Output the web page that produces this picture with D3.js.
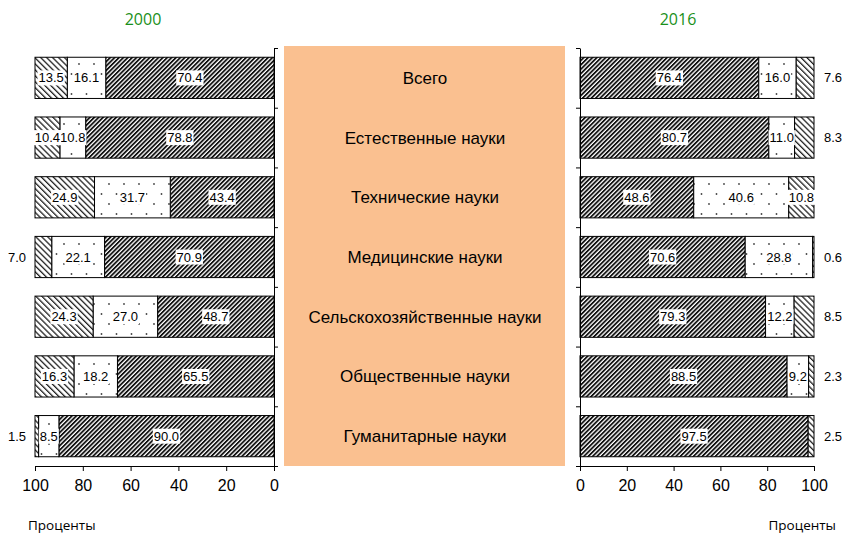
<!DOCTYPE html>
<html>
<head>
<meta charset="utf-8">
<script src="https://cdn.jsdelivr.net/npm/d3@7/dist/d3.min.js"></script>
<style>
  html, body { margin: 0; padding: 0; background: #fff; }
  svg { display: block; }
</style>
</head>
<body>
<svg id="chart" width="847" height="535"></svg>
<script>
// Categories (top to bottom)
const categories = [
  "Всего",
  "Естественные науки",
  "Технические науки",
  "Медицинские науки",
  "Сельскохозяйственные науки",
  "Общественные науки",
  "Гуманитарные науки"
];

// Shares, per cent: three components per category
const s1_2000 = [70.4, 78.8, 43.4, 70.9, 48.7, 65.5, 90.0];
const s2_2000 = [16.1, 10.8, 31.7, 22.1, 27.0, 18.2, 8.5];
const s3_2000 = [13.5, 10.4, 24.9, 7.0, 24.3, 16.3, 1.5];

const s1_2016 = [76.4, 80.7, 48.6, 70.6, 79.3, 88.5, 97.5];
const s2_2016 = [16.0, 11.0, 40.6, 28.8, 12.2, 9.2, 0.0];
const s3_2016 = [7.6, 8.3, 10.8, 0.6, 8.5, 2.3, 2.5];

const xTicks = [0, 20, 40, 60, 80, 100];
const years = ["2000", "2016"];
const unitLabel = "Проценты";

const svg = d3.select("#chart");
const defs = svg.append("defs");

// Fill patterns: dense "/" hatch, sparse dots, light "\" hatch
const pDark = defs.append("pattern").attr("id", "hatchDark")
  .attr("patternUnits", "userSpaceOnUse").attr("width", 3.1).attr("height", 10)
  .attr("patternTransform", "rotate(45)");
pDark.append("rect").attr("width", 3.1).attr("height", 10).attr("fill", "#fff");
pDark.append("rect").attr("width", 1.8).attr("height", 10).attr("fill", "#111");

const pLight = defs.append("pattern").attr("id", "hatchLight")
  .attr("patternUnits", "userSpaceOnUse").attr("width", 4.2).attr("height", 10)
  .attr("patternTransform", "rotate(-45)");
pLight.append("rect").attr("width", 4.2).attr("height", 10).attr("fill", "#fff");
pLight.append("rect").attr("width", 1.3).attr("height", 10).attr("fill", "#222");

const pDots = defs.append("pattern").attr("id", "dots")
  .attr("patternUnits", "userSpaceOnUse").attr("width", 15).attr("height", 20);
pDots.append("rect").attr("width", 15).attr("height", 20).attr("fill", "#fff");
pDots.append("circle").attr("cx", 4).attr("cy", 4).attr("r", 0.9).attr("fill", "#444");
pDots.append("circle").attr("cx", 11.5).attr("cy", 14).attr("r", 0.9).attr("fill", "#444");

const fills = ["url(#hatchDark)", "url(#dots)", "url(#hatchLight)"];

const y = d3.scaleBand().domain(categories).range([48, 466])
  .paddingInner(0.31).paddingOuter(0.155);

const font = "Arial, 'Liberation Sans', sans-serif";

// Central category panel
svg.append("rect").attr("x", 284).attr("y", 46).attr("width", 281).attr("height", 420)
  .attr("fill", "#FAC090");
svg.append("g").selectAll("text").data(categories).join("text")
  .attr("x", 425).attr("y", d => y(d) + y.bandwidth() / 2)
  .attr("dy", "0.35em").attr("text-anchor", "middle")
  .attr("font-family", font).attr("font-size", 17).attr("fill", "#000")
  .text(d => d);

function panel(series, range, side, year, titleX, unitX, unitAnchor) {
  const x = d3.scaleLinear().domain([0, 100]).range(range);
  const g = svg.append("g");

  const rows = categories.map((c, i) => {
    let acc = 0;
    return series.map((s, k) => {
      const seg = { cat: c, k, v: s[i], x0: acc, x1: acc + s[i] };
      acc += s[i];
      return seg;
    });
  });

  // Bars
  rows.forEach(row => {
    row.forEach(seg => {
      if (seg.v <= 0) return;
      const a = x(seg.x0), b = x(seg.x1);
      g.append("rect")
        .attr("x", Math.min(a, b)).attr("y", y(seg.cat))
        .attr("width", Math.abs(b - a)).attr("height", y.bandwidth())
        .attr("fill", fills[seg.k]).attr("stroke", "#000").attr("stroke-width", 1);
    });
  });

  // Value labels
  rows.forEach(row => {
    row.forEach(seg => {
      if (seg.v <= 0) return;
      const cy = y(seg.cat) + y.bandwidth() / 2;
      const outside = seg.k === 2 && seg.v < 10;
      const txt = seg.v.toFixed(1);
      let cx;
      if (outside) {
        cx = side === "left" ? x(100) - 18 : x(100) + 19;
      } else {
        cx = (x(seg.x0) + x(seg.x1)) / 2;
      }
      const t = g.append("text")
        .attr("x", cx).attr("y", cy).attr("dy", "0.35em")
        .attr("text-anchor", "middle")
        .attr("font-family", font).attr("font-size", 13).attr("fill", "#000")
        .text(txt);
      if (!outside) {
        const bb = t.node().getBBox();
        g.insert("rect", () => t.node())
          .attr("x", bb.x - 1).attr("y", bb.y)
          .attr("width", bb.width + 2).attr("height", bb.height)
          .attr("fill", "#fff");
      }
    });
  });

  // Bottom axis
  const ax = g.append("g").attr("transform", "translate(0,466)")
    .call(d3.axisBottom(x).tickValues(xTicks).tickSizeInner(5).tickSizeOuter(0).tickPadding(9));
  ax.selectAll("text").attr("font-family", font).attr("font-size", 16).attr("fill", "#000");
  ax.selectAll("line,path").attr("stroke", "#000");

  // Vertical axis with ticks between categories
  const yb = d3.scaleLinear().domain([0, categories.length]).range([48, 466]);
  const vAxis = (side === "left" ? d3.axisRight(yb) : d3.axisLeft(yb))
    .ticks(categories.length).tickFormat("").tickSizeInner(4).tickSizeOuter(0);
  const av = g.append("g").attr("transform", `translate(${x(0)},0)`).call(vAxis);
  av.selectAll("line,path").attr("stroke", "#000");

  // Year title
  svg.append("text").attr("x", titleX).attr("y", 25).attr("text-anchor", "middle")
    .attr("font-family", "'Open Sans', 'Noto Sans', sans-serif").attr("font-size", 16)
    .attr("fill", "#1A901A").text(year);

  // Unit label
  svg.append("text").attr("x", unitX).attr("y", 530).attr("text-anchor", unitAnchor)
    .attr("font-family", "'Open Sans', 'Noto Sans', sans-serif").attr("font-size", 13.5)
    .attr("fill", "#000").text(unitLabel);
}

panel([s1_2000, s2_2000, s3_2000], [274, 35], "left", years[0], 143, 28, "start");
panel([s1_2016, s2_2016, s3_2016], [580, 814], "right", years[1], 678, 836, "end");
</script>
</body>
</html>
